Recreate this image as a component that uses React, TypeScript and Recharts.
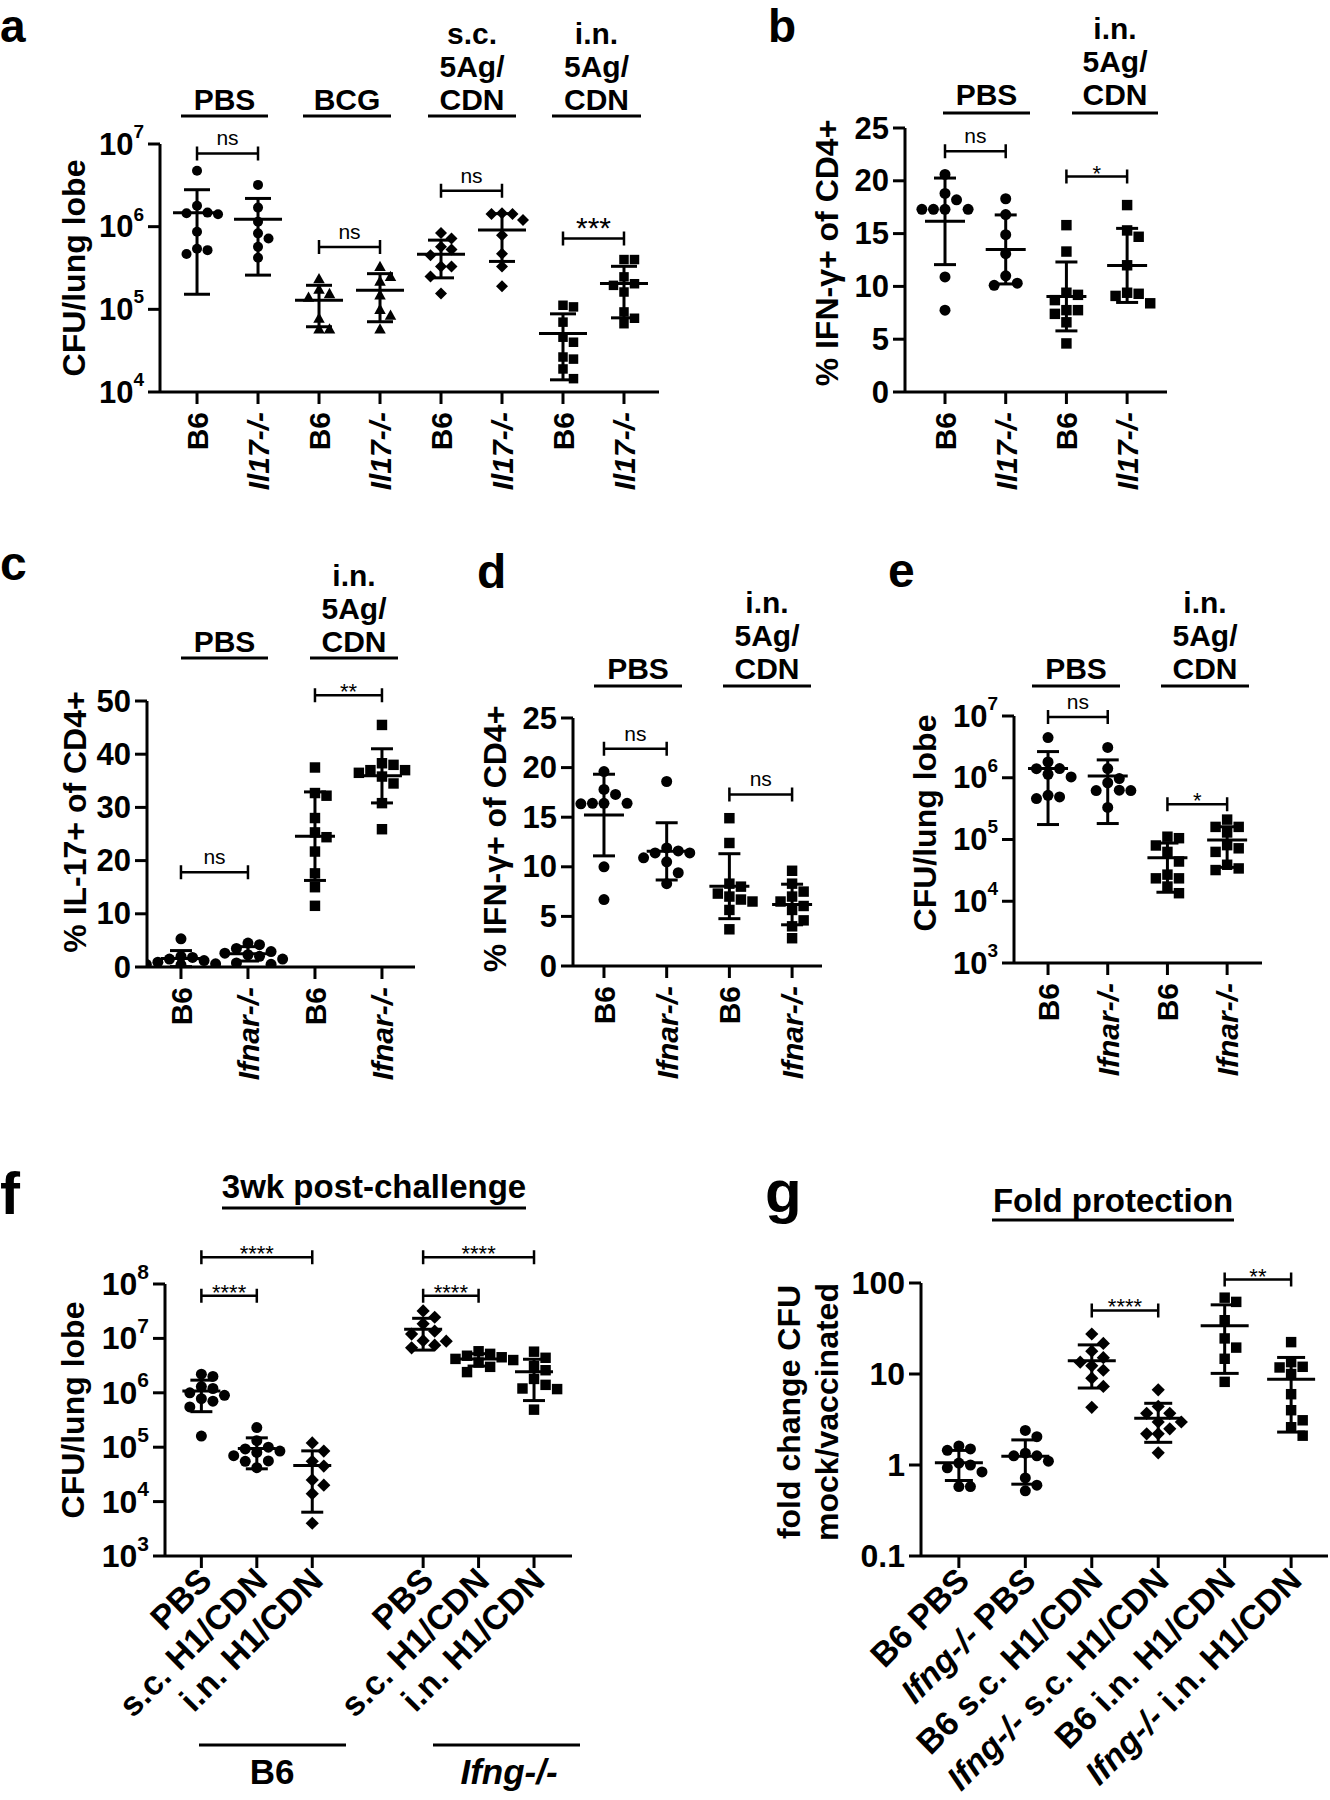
import React from "react";
import { ErrorBar, ReferenceLine, Scatter, ScatterChart, XAxis, YAxis } from "recharts";

const FONT = '"Liberation Sans", Arial, Helvetica, sans-serif';

// ---------- panel a: CFU/lung lobe, B6 vs Il17-/- ----------
const aLabels = ["B6", "Il17-/-", "B6", "Il17-/-", "B6", "Il17-/-", "B6", "Il17-/-"];
const aXTicks = [1, 2, 3, 4, 5, 6, 7, 8];
const aYTicks = [1e4, 1e5, 1e6, 1e7];
const aPbsB6 = [4.75e6, 1.79e6, 1.48e6, 1.45e6, 1.41e6, 8.7e5, 5.4e5, 5.2e5, 4.66e5];
const aPbsIl17 = [3.2e6, 1.7e6, 1.15e6, 8.3e5, 7.2e5, 5.7e5, 4.2e5];
const aBcgB6 = [2.35e5, 1.75e5, 1.55e5, 1.4e5, 7.8e4, 5.8e4, 5.8e4];
const aBcgIl17 = [3.3e5, 2.5e5, 2.2e5, 1.5e5, 1.0e5, 8.5e4, 5.8e4];
const aScB6 = [8.4e5, 7.2e5, 5.7e5, 5.3e5, 4.5e5, 3.3e5, 3.3e5, 2.5e5, 1.55e5];
const aScIl17 = [1.45e6, 1.42e6, 1.42e6, 1.2e6, 7.9e5, 4.7e5, 3.3e5, 1.9e5];
const aInB6 = [1.12e5, 1.07e5, 7.0e4, 4.6e4, 4.0e4, 2.65e4, 2.5e4, 1.9e4, 1.45e4];
const aInIl17 = [4.0e5, 4.0e5, 2.47e5, 2.04e5, 1.95e5, 1.62e5, 9.3e4, 7.8e4, 6.7e4];

// ---------- panel b: % IFN-g+ of CD4+ ----------
const bLabels = ["B6", "Il17-/-", "B6", "Il17-/-"];
const bXTicks = [1, 2, 3, 4];
const bYTicks = [0, 5, 10, 15, 20, 25];
const bPbsB6 = [20.6, 18.8, 18.2, 17.3, 17.3, 17.3, 17.3, 10.9, 7.75];
const bPbsIl17 = [18.3, 16.8, 14.9, 13.1, 11.0, 10.3, 10.1];
const bInB6 = [15.8, 13.3, 9.4, 9.2, 8.7, 7.75, 7.75, 7.4, 6.6, 4.6];
const bInIl17 = [17.7, 15.3, 14.7, 12.0, 9.4, 9.3, 9.1, 8.4];

// ---------- panel c: % IL-17+ of CD4+ ----------
const ifnarLabels = ["B6", "Ifnar-/-", "B6", "Ifnar-/-"];
const cYTicks = [0, 10, 20, 30, 40, 50];
const cPbsB6 = [5.3, 2.0, 1.8, 1.5, 1.2, 0.9, 0.6, 0.5, 0.4];
const cPbsIfnar = [4.5, 4.2, 3.5, 2.9, 2.6, 2.3, 2.0, 1.5, 0.75, 0.5];
const cInB6 = [37.5, 32.7, 32.2, 28.0, 25.3, 24.4, 21.7, 17.6, 15.0, 11.5];
const cInIfnar = [45.5, 38.3, 38.0, 37.0, 37.0, 36.5, 35.8, 34.5, 30.8, 25.9];

// ---------- panel d: % IFN-g+ of CD4+ ----------
const dYTicks = [0, 5, 10, 15, 20, 25];
const dPbsB6 = [19.6, 17.8, 17.3, 16.4, 16.4, 16.4, 16.35, 10.0, 6.7];
const dPbsIfnar = [18.6, 11.9, 11.6, 11.4, 11.4, 10.9, 10.5, 9.4, 8.3];
const dInB6 = [14.9, 12.4, 8.3, 8.0, 7.3, 7.0, 6.7, 6.5, 5.65, 3.7];
const dInIfnar = [9.6, 8.3, 7.5, 7.0, 6.5, 6.05, 5.65, 4.6, 4.0, 2.8];

// ---------- panel e: CFU/lung lobe ----------
const eYTicks = [1e3, 1e4, 1e5, 1e6, 1e7];
const ePbsB6 = [4.47e6, 1.8e6, 1.41e6, 1.4e6, 1.14e6, 1.03e6, 5.2e5, 4.9e5, 4.6e5];
const ePbsIfnar = [3.1e6, 1.41e6, 9.7e5, 8.3e5, 6.3e5, 6.2e5, 6.2e5, 3.3e5];
const eInB6 = [1.11e5, 1.05e5, 8.0e4, 6.3e4, 4.4e4, 2.7e4, 2.35e4, 2.35e4, 1.73e4, 1.35e4];
const eInIfnar = [2.1e5, 1.6e5, 1.6e5, 1.3e5, 8.1e4, 7.2e4, 6.3e4, 3.9e4, 3.4e4, 3.2e4];

// ---------- panel f: 3wk post-challenge ----------
const fLabels = ["PBS", "s.c. H1/CDN", "i.n. H1/CDN", "PBS", "s.c. H1/CDN", "i.n. H1/CDN"];
const fXTicks = [1, 2, 3, 5, 6, 7];
const fYTicks = [1e3, 1e4, 1e5, 1e6, 1e7, 1e8];
const fB6Pbs = [2.2e6, 2.0e6, 1.3e6, 1.2e6, 1.0e6, 9.0e5, 7.8e5, 7.0e5, 5.5e5, 1.6e5];
const fB6Sc = [2.3e5, 1.32e5, 1.0e5, 9.3e4, 8.5e4, 8.0e4, 7.0e4, 5.6e4, 5.5e4, 4.2e4];
const fB6In = [1.2e5, 8.5e4, 5.5e4, 4.5e4, 2.5e4, 2.0e4, 1.4e4, 4.0e3];
const fIfngPbs = [3.2e7, 2.45e7, 1.85e7, 1.36e7, 1.2e7, 9.1e6, 8.9e6, 7.5e6, 6.7e6];
const fIfngSc = [5.8e6, 5.2e6, 4.8e6, 4.5e6, 4.2e6, 4.0e6, 3.6e6, 3.0e6, 2.4e6];
const fIfngIn = [5.7e6, 4.4e6, 3.1e6, 2.6e6, 1.8e6, 1.4e6, 1.2e6, 1.17e6, 4.9e5];

// ---------- panel g: fold protection ----------
const gLabels = ["B6 PBS", "Ifng-/- PBS", "B6 s.c. H1/CDN", "Ifng-/- s.c. H1/CDN", "B6 i.n. H1/CDN", "Ifng-/- i.n. H1/CDN"];
const gXTicks = [1, 2, 3, 4, 5, 6];
const gYTicks = [0.1, 1, 10, 100];
const gB6Pbs = [1.62, 1.5, 1.45, 1.05, 1.0, 0.93, 0.84, 0.58, 0.58];
const gIfngPbs = [2.4, 2.05, 1.35, 1.26, 1.26, 1.1, 0.72, 0.6, 0.52];
const gB6Sc = [27.5, 21.7, 17.8, 15.1, 13.5, 12.3, 11, 9, 7.3, 4.3];
const gIfngSc = [6.7, 4.4, 3.7, 3.7, 2.97, 2.97, 2.5, 2.2, 2.2, 1.36];
const gB6In = [69, 62, 39, 24.6, 19.5, 14.7, 8.2];
const gIfngIn = [22.4, 13.5, 12, 11.8, 10, 6.0, 4.0, 3.1, 2.6, 2.1];

type Marker = "circle" | "square" | "diamond" | "triangle";
type Group = { x: number; values: number[]; marker: Marker };
type Bracket = { from: number; to: number; y: number; text: string };

const aGroups: Group[] = [
  { x: 1, values: aPbsB6, marker: "circle" },
  { x: 2, values: aPbsIl17, marker: "circle" },
  { x: 3, values: aBcgB6, marker: "triangle" },
  { x: 4, values: aBcgIl17, marker: "triangle" },
  { x: 5, values: aScB6, marker: "diamond" },
  { x: 6, values: aScIl17, marker: "diamond" },
  { x: 7, values: aInB6, marker: "square" },
  { x: 8, values: aInIl17, marker: "square" },
];
const aBrackets: Bracket[] = [
  { from: 1, to: 2, y: 7.7e6, text: "ns" },
  { from: 3, to: 4, y: 5.66e5, text: "ns" },
  { from: 5, to: 6, y: 2.72e6, text: "ns" },
  { from: 7, to: 8, y: 7.2e5, text: "***" },
];
const bGroups: Group[] = [
  { x: 1, values: bPbsB6, marker: "circle" },
  { x: 2, values: bPbsIl17, marker: "circle" },
  { x: 3, values: bInB6, marker: "square" },
  { x: 4, values: bInIl17, marker: "square" },
];
const bBrackets: Bracket[] = [
  { from: 1, to: 2, y: 22.8, text: "ns" },
  { from: 3, to: 4, y: 20.4, text: "*" },
];
const cGroups: Group[] = [
  { x: 1, values: cPbsB6, marker: "circle" },
  { x: 2, values: cPbsIfnar, marker: "circle" },
  { x: 3, values: cInB6, marker: "square" },
  { x: 4, values: cInIfnar, marker: "square" },
];
const cBrackets: Bracket[] = [
  { from: 1, to: 2, y: 17.8, text: "ns" },
  { from: 3, to: 4, y: 51.1, text: "**" },
];
const dGroups: Group[] = [
  { x: 1, values: dPbsB6, marker: "circle" },
  { x: 2, values: dPbsIfnar, marker: "circle" },
  { x: 3, values: dInB6, marker: "square" },
  { x: 4, values: dInIfnar, marker: "square" },
];
const dBrackets: Bracket[] = [
  { from: 1, to: 2, y: 21.9, text: "ns" },
  { from: 3, to: 4, y: 17.3, text: "ns" },
];
const eGroups: Group[] = [
  { x: 1, values: ePbsB6, marker: "circle" },
  { x: 2, values: ePbsIfnar, marker: "circle" },
  { x: 3, values: eInB6, marker: "square" },
  { x: 4, values: eInIfnar, marker: "square" },
];
const eBrackets: Bracket[] = [
  { from: 1, to: 2, y: 9.6e6, text: "ns" },
  { from: 3, to: 4, y: 3.74e5, text: "*" },
];
const fGroups: Group[] = [
  { x: 1, values: fB6Pbs, marker: "circle" },
  { x: 2, values: fB6Sc, marker: "circle" },
  { x: 3, values: fB6In, marker: "diamond" },
  { x: 5, values: fIfngPbs, marker: "diamond" },
  { x: 6, values: fIfngSc, marker: "square" },
  { x: 7, values: fIfngIn, marker: "square" },
];
const fBrackets: Bracket[] = [
  { from: 1, to: 2, y: 6.1e7, text: "****" },
  { from: 1, to: 3, y: 3.1e8, text: "****" },
  { from: 5, to: 6, y: 6.1e7, text: "****" },
  { from: 5, to: 7, y: 3.1e8, text: "****" },
];
const gGroups: Group[] = [
  { x: 1, values: gB6Pbs, marker: "circle" },
  { x: 2, values: gIfngPbs, marker: "circle" },
  { x: 3, values: gB6Sc, marker: "diamond" },
  { x: 4, values: gIfngSc, marker: "diamond" },
  { x: 5, values: gB6In, marker: "square" },
  { x: 6, values: gIfngIn, marker: "square" },
];
const gBrackets: Bracket[] = [
  { from: 3, to: 4, y: 50, text: "****" },
  { from: 5, to: 6, y: 109, text: "**" },
];

// ---------- layout ----------
type Cfg = {
  px0: number; px1: number; top: number; bot: number;
  xDomain: [number, number]; yDomain: [number, number];
  log: boolean; pow: boolean; rot: number;
  tickFont: number; supFont: number; xFont: number;
  dot: number; meanW: number; capW: number;
  starFont: number; starDy: number; xh: number;
};

const base = { tickFont: 31, supFont: 19, xFont: 30, dot: 10, meanW: 40, capW: 22, starFont: 22, starDy: 4, xh: 150, rot: -90 };

const cfgA: Cfg = { ...base, px0: 160, px1: 659, top: 144, bot: 392, xDomain: [0.393, 8.574], yDomain: [1e4, 1e7], log: true, pow: true, meanW: 48, capW: 26, starFont: 30, starDy: 0 };
const cfgB: Cfg = { ...base, px0: 905, px1: 1167, top: 128, bot: 392, xDomain: [0.341, 4.657], yDomain: [0, 25], log: false, pow: false, dot: 11 };
const cfgC: Cfg = { ...base, px0: 147, px1: 415, top: 701, bot: 967, xDomain: [0.493, 4.493], yDomain: [0, 50], log: false, pow: false, dot: 11 };
const cfgD: Cfg = { ...base, px0: 573, px1: 822, top: 718, bot: 966, xDomain: [0.506, 4.477], yDomain: [0, 25], log: false, pow: false, dot: 11 };
const cfgE: Cfg = { ...base, px0: 1014, px1: 1262, top: 716, bot: 963, xDomain: [0.43, 4.584], yDomain: [1e3, 1e7], log: true, pow: true, dot: 11 };
const cfgF: Cfg = { ...base, px0: 165, px1: 572, top: 1283.5, bot: 1555.5, xDomain: [0.344, 7.685], yDomain: [1e3, 1e8], log: true, pow: true, rot: -45, tickFont: 32, supFont: 21, xFont: 34, dot: 11, meanW: 38, capW: 22, xh: 250 };
const cfgG: Cfg = { ...base, px0: 921, px1: 1328, top: 1282.5, bot: 1555.5, xDomain: [0.43, 6.555], yDomain: [0.1, 100], log: true, pow: false, rot: -45, tickFont: 32, supFont: 21, xFont: 34, dot: 11, meanW: 48, capW: 28, xh: 260 };

function yPix(cfg: Cfg, v: number) {
  const t = cfg.log ? Math.log10 : (u: number) => u;
  const [lo, hi] = cfg.yDomain;
  return cfg.bot - ((t(v) - t(lo)) / (t(hi) - t(lo))) * (cfg.bot - cfg.top);
}

// simple bee-swarm so overlapping points spread sideways like GraphPad
function swarm(values: number[], cfg: Cfg) {
  const D = cfg.dot;
  const step = cfg.dot * 1.05;
  const cands = [0, step, -step, 2 * step, -2 * step, 3 * step, -3 * step];
  const placed: { x: number; y: number }[] = [];
  const offs = values.map(() => 0);
  const order = values.map((_, i) => i).sort((i, j) => values[j] - values[i]);
  for (const i of order) {
    const py = yPix(cfg, values[i]);
    let best = 0;
    let bestD = -1;
    for (const c of cands) {
      const m = placed.reduce((acc, p) => Math.min(acc, Math.hypot(p.x - c, p.y - py)), Infinity);
      if (m >= D) { best = c; bestD = m; break; }
      if (m > bestD) { bestD = m; best = c; }
    }
    offs[i] = best;
    placed.push({ x: best, y: py });
  }
  return offs;
}

function meanSd(values: number[]) {
  const n = values.length;
  const mean = values.reduce((s, v) => s + v, 0) / n;
  const sd = Math.sqrt(values.reduce((s, v) => s + (v - mean) ** 2, 0) / (n - 1));
  return { mean, sd };
}

const markerShape = (kind: Marker, size: number) => (p: any) => {
  const { cx, cy } = p;
  if (cx == null || cy == null) return <g />;
  const r = size / 2;
  if (kind === "circle") return <circle cx={cx} cy={cy} r={r} fill="#000" />;
  if (kind === "square") return <rect x={cx - r * 0.95} y={cy - r * 0.95} width={r * 1.9} height={r * 1.9} fill="#000" />;
  if (kind === "diamond") {
    const d = r * 1.2;
    return <path d={`M${cx},${cy - d}L${cx + d},${cy}L${cx},${cy + d}L${cx - d},${cy}Z`} fill="#000" />;
  }
  const t = r * 1.15;
  return <path d={`M${cx},${cy - t}L${cx + t},${cy + t * 0.8}L${cx - t},${cy + t * 0.8}Z`} fill="#000" />;
};

const meanShape = (w: number) => (p: any) => {
  const { cx, cy } = p;
  if (cx == null || cy == null) return <g />;
  return <line x1={cx - w / 2} y1={cy} x2={cx + w / 2} y2={cy} stroke="#000" strokeWidth={3} />;
};

const bracketShape = (text: string, cfg: Cfg) => (p: any) => {
  const { x1, y1, x2 } = p;
  const isNs = text === "ns";
  return (
    <g>
      <path d={`M${x1},${y1 - 7}V${y1 + 7}M${x1},${y1}H${x2}M${x2},${y1 - 7}V${y1 + 7}`} stroke="#000" strokeWidth={2.5} fill="none" />
      <text
        x={(x1 + x2) / 2}
        y={isNs ? y1 - 8 : y1 + cfg.starDy}
        textAnchor="middle"
        fontFamily={FONT}
        fontSize={isNs ? 21 : cfg.starFont}
        fill="#000"
      >
        {text}
      </text>
    </g>
  );
};

const xTick = (cfg: Cfg, labels: string[], ticks: number[]) => (p: any) => {
  const { x, y, payload } = p;
  const label = labels[ticks.indexOf(payload.value)] ?? "";
  const parts = label.split(/(Il17-\/-|Ifnar-\/-|Ifng-\/-)/).filter(Boolean);
  const tx = cfg.rot === -90 ? x : x + 4;
  const ty = cfg.rot === -90 ? y + 6 : y + 4;
  return (
    <text
      transform={`translate(${tx},${ty}) rotate(${cfg.rot})`}
      textAnchor="end"
      dominantBaseline="central"
      fontFamily={FONT}
      fontWeight="bold"
      fontSize={cfg.xFont}
      fill="#000"
    >
      {parts.map((s, i) => (
        <tspan key={i} fontStyle={/-\/-$/.test(s) ? "italic" : "normal"}>{s}</tspan>
      ))}
    </text>
  );
};

const yTick = (cfg: Cfg) => (p: any) => {
  const { x, y, payload } = p;
  const v = payload.value as number;
  if (cfg.pow) {
    const exp = Math.round(Math.log10(v));
    return (
      <text x={x} y={y} textAnchor="end" dominantBaseline="central" fontFamily={FONT} fontWeight="bold" fontSize={cfg.tickFont} fill="#000">
        10<tspan dy={-cfg.tickFont * 0.42} fontSize={cfg.supFont}>{exp}</tspan>
      </text>
    );
  }
  return (
    <text x={x} y={y} textAnchor="end" dominantBaseline="central" fontFamily={FONT} fontWeight="bold" fontSize={cfg.tickFont} fill="#000">
      {String(v)}
    </text>
  );
};

function Panel({ cfg, groups, brackets, labels, xTicks, yTicks }: { cfg: Cfg; groups: Group[]; brackets: Bracket[]; labels: string[]; xTicks: number[]; yTicks: number[] }) {
  const YW = 120, MT = 80, MR = 4;
  const w = cfg.px1 - cfg.px0 + YW + MR;
  const h = cfg.bot - cfg.top + MT + cfg.xh;
  const spacing = (cfg.px1 - cfg.px0) / (cfg.xDomain[1] - cfg.xDomain[0]);
  const series = groups.map((g) => {
    const offs = swarm(g.values, cfg);
    const { mean, sd } = meanSd(g.values);
    const low = Math.max(mean - sd, cfg.yDomain[0]);
    return {
      marker: g.marker,
      pts: g.values.map((v, i) => ({ x: g.x + offs[i] / spacing, y: v })),
      mean: [{ x: g.x, y: mean, err: [mean - low, sd] }],
    };
  });
  const axisStyle = { stroke: "#000", strokeWidth: 3 };
  return (
    <div style={{ position: "absolute", left: cfg.px0 - YW, top: cfg.top - MT }}>
      <ScatterChart width={w} height={h} margin={{ top: MT, right: MR, bottom: 0, left: 0 }}>
        <XAxis
          type="number"
          dataKey="x"
          domain={cfg.xDomain}
          allowDataOverflow
          ticks={xTicks}
          interval={0}
          height={cfg.xh}
          tickSize={12}
          axisLine={axisStyle}
          tickLine={axisStyle}
          tick={xTick(cfg, labels, xTicks)}
        />
        <YAxis
          type="number"
          dataKey="y"
          scale={cfg.log ? "log" : "linear"}
          domain={cfg.yDomain}
          allowDataOverflow
          ticks={yTicks}
          interval={0}
          width={YW}
          tickSize={12}
          tickMargin={4}
          axisLine={axisStyle}
          tickLine={axisStyle}
          tick={yTick(cfg)}
        />
        {series.map((s, i) => (
          <Scatter key={`p${i}`} data={s.pts} shape={markerShape(s.marker, cfg.dot)} isAnimationActive={false} />
        ))}
        {series.map((s, i) => (
          <Scatter key={`m${i}`} data={s.mean} shape={meanShape(cfg.meanW)} isAnimationActive={false}>
            <ErrorBar dataKey="err" direction="y" width={cfg.capW / 2} stroke="#000" strokeWidth={3} isAnimationActive={false} />
          </Scatter>
        ))}
        {brackets.map((b, i) => (
          <ReferenceLine
            key={`b${i}`}
            segment={[{ x: b.from, y: b.y }, { x: b.to, y: b.y }]}
            ifOverflow="visible"
            shape={bracketShape(b.text, cfg)}
          />
        ))}
      </ScatterChart>
    </div>
  );
}

// ---------- annotations ----------
const panelLetters = [
  { t: "a", x: 0, y: 42, s: 46 },
  { t: "b", x: 768, y: 42, s: 46 },
  { t: "c", x: 0, y: 580, s: 48 },
  { t: "d", x: 477, y: 588, s: 48 },
  { t: "e", x: 888, y: 587, s: 48 },
  { t: "f", x: 0, y: 1214, s: 60 },
  { t: "g", x: 765, y: 1212, s: 60 },
];

const groupHeaders = [
  { lines: ["PBS"], x0: 181, x1: 268, line: 116, base: 110 },
  { lines: ["BCG"], x0: 303, x1: 391, line: 116, base: 110 },
  { lines: ["s.c.", "5Ag/", "CDN"], x0: 428, x1: 516, line: 116, base: 110 },
  { lines: ["i.n.", "5Ag/", "CDN"], x0: 552, x1: 641, line: 116, base: 110 },
  { lines: ["PBS"], x0: 943, x1: 1030, line: 113, base: 105 },
  { lines: ["i.n.", "5Ag/", "CDN"], x0: 1072, x1: 1158, line: 113, base: 105 },
  { lines: ["PBS"], x0: 181, x1: 268, line: 658, base: 652 },
  { lines: ["i.n.", "5Ag/", "CDN"], x0: 310, x1: 398, line: 658, base: 652 },
  { lines: ["PBS"], x0: 594, x1: 682, line: 686, base: 679 },
  { lines: ["i.n.", "5Ag/", "CDN"], x0: 723, x1: 811, line: 686, base: 679 },
  { lines: ["PBS"], x0: 1032, x1: 1120, line: 686, base: 679 },
  { lines: ["i.n.", "5Ag/", "CDN"], x0: 1161, x1: 1249, line: 686, base: 679 },
];

const yTitles = [
  { t: "CFU/lung lobe", x: 74, y: 268 },
  { t: "% IFN-γ+ of CD4+", x: 827, y: 253 },
  { t: "% IL-17+ of CD4+", x: 75, y: 822 },
  { t: "% IFN-γ+ of CD4+", x: 495, y: 839 },
  { t: "CFU/lung lobe", x: 925, y: 823 },
  { t: "CFU/lung lobe", x: 73, y: 1410 },
  { t: "fold change CFU", x: 789, y: 1412 },
  { t: "mock/vaccinated", x: 827, y: 1412 },
];

function Overlay() {
  return (
    <svg width={1330} height={1800} style={{ position: "absolute", left: 0, top: 0 }}>
      <g fontFamily={FONT} fontWeight="bold" fill="#000">
        {panelLetters.map((l) => (
          <text key={l.t} x={l.x} y={l.y} fontSize={l.s}>{l.t}</text>
        ))}
        {groupHeaders.map((hd, i) => (
          <g key={i}>
            <line x1={hd.x0} x2={hd.x1} y1={hd.line} y2={hd.line} stroke="#000" strokeWidth={3} />
            {hd.lines.map((ln, k) => (
              <text key={k} x={(hd.x0 + hd.x1) / 2} y={hd.base - (hd.lines.length - 1 - k) * 33} textAnchor="middle" fontSize={30}>
                {ln}
              </text>
            ))}
          </g>
        ))}
        {yTitles.map((t, i) => (
          <text key={i} transform={`translate(${t.x},${t.y}) rotate(-90)`} textAnchor="middle" dominantBaseline="central" fontSize={32}>
            {t.t}
          </text>
        ))}
        <text x={374} y={1198} textAnchor="middle" fontSize={33}>3wk post-challenge</text>
        <line x1={222} x2={526} y1={1208} y2={1208} stroke="#000" strokeWidth={3} />
        <text x={1113} y={1212} textAnchor="middle" fontSize={33}>Fold protection</text>
        <line x1={992} x2={1234} y1={1220} y2={1220} stroke="#000" strokeWidth={3} />
        <line x1={199} x2={346} y1={1745} y2={1745} stroke="#000" strokeWidth={3} />
        <text x={272} y={1784} textAnchor="middle" fontSize={35}>B6</text>
        <line x1={433} x2={580} y1={1745} y2={1745} stroke="#000" strokeWidth={3} />
        <text x={509} y={1784} textAnchor="middle" fontSize={35} fontStyle="italic">Ifng-/-</text>
      </g>
    </svg>
  );
}

export default function App() {
  return (
    <div style={{ position: "absolute", left: 0, top: 0, width: 1330, height: 1800, overflow: "hidden", background: "#fff" }}>
      <Panel cfg={cfgA} groups={aGroups} brackets={aBrackets} labels={aLabels} xTicks={aXTicks} yTicks={aYTicks} />
      <Panel cfg={cfgB} groups={bGroups} brackets={bBrackets} labels={bLabels} xTicks={bXTicks} yTicks={bYTicks} />
      <Panel cfg={cfgC} groups={cGroups} brackets={cBrackets} labels={ifnarLabels} xTicks={bXTicks} yTicks={cYTicks} />
      <Panel cfg={cfgD} groups={dGroups} brackets={dBrackets} labels={ifnarLabels} xTicks={bXTicks} yTicks={dYTicks} />
      <Panel cfg={cfgE} groups={eGroups} brackets={eBrackets} labels={ifnarLabels} xTicks={bXTicks} yTicks={eYTicks} />
      <Panel cfg={cfgF} groups={fGroups} brackets={fBrackets} labels={fLabels} xTicks={fXTicks} yTicks={fYTicks} />
      <Panel cfg={cfgG} groups={gGroups} brackets={gBrackets} labels={gLabels} xTicks={gXTicks} yTicks={gYTicks} />
      <Overlay />
    </div>
  );
}
